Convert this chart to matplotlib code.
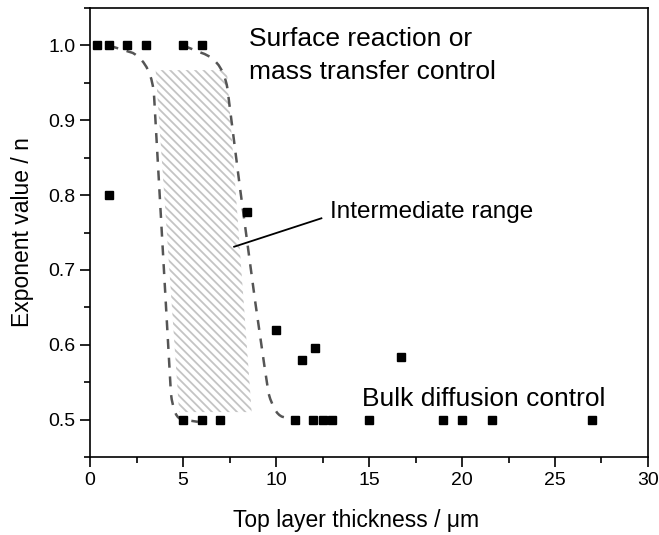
import matplotlib
matplotlib.use("Agg")
import matplotlib.pyplot as plt
from matplotlib.path import Path
from matplotlib.patches import PathPatch, Polygon
from matplotlib.ticker import MultipleLocator

plt.rcParams['font.family'] = ['Liberation Sans', 'DejaVu Sans']
plt.rcParams['hatch.color'] = '#c4c4c4'
plt.rcParams['hatch.linewidth'] = 1.3

# Data: top layer thickness (um) and exponent n
thickness = [0.4, 1.0, 2.0, 3.0, 5.0, 6.0, 1.0, 8.45, 10.0, 11.4, 12.1, 16.7,
             5.0, 6.0, 7.0, 11.0, 12.0, 12.5, 13.0, 15.0, 19.0, 20.0, 21.6, 27.0]
exponent = [1.0, 1.0, 1.0, 1.0, 1.0, 1.0, 0.80, 0.778, 0.62, 0.58, 0.595, 0.583,
            0.5, 0.5, 0.5, 0.5, 0.5, 0.5, 0.5, 0.5, 0.5, 0.5, 0.5, 0.5]

# Intermediate (hatched) region corners
region_x = [3.53, 7.36, 8.69, 4.79]
region_y = [0.967, 0.967, 0.51, 0.51]

# Dashed boundary curves (vertices + path codes)
left_bx = [1.0, 2.3, 3.35, 3.45, 4.35, 4.5, 5.0, 5.8]
left_by = [1.0, 0.99, 0.975, 0.93, 0.535, 0.5, 0.5, 0.497]
right_bx = [5.0, 6.0, 7.3, 7.45, 8.7, 9.6, 9.95, 10.5, 11.1]
right_by = [1.0, 0.99, 0.98, 0.93, 0.68, 0.535, 0.503, 0.503, 0.503]

fig = plt.figure(figsize=(6.59, 5.35), dpi=100)
ax = fig.add_axes([0.1366, 0.1458, 0.8467, 0.8392])

ax.add_patch(Polygon(list(zip(region_x, region_y)), closed=True, facecolor='none',
                     edgecolor='#c4c4c4', linewidth=0, hatch='\\\\\\\\'))

codes_left = [Path.MOVETO, Path.LINETO, Path.CURVE3, Path.CURVE3, Path.LINETO,
              Path.CURVE3, Path.CURVE3, Path.LINETO]
codes_right = [Path.MOVETO, Path.LINETO, Path.CURVE3, Path.CURVE3, Path.CURVE3,
               Path.CURVE3, Path.CURVE3, Path.CURVE3, Path.LINETO]
for bx, by, cd in [(left_bx, left_by, codes_left), (right_bx, right_by, codes_right)]:
    p = Path(list(zip(bx, by)), cd)
    ax.add_patch(PathPatch(p, facecolor='none', edgecolor='#555555', linewidth=1.8,
                           linestyle=(0, (4, 3.5)), zorder=2))

ax.plot(thickness, exponent, linestyle='none', marker='s', color='black',
        markersize=6, zorder=3)

ax.set_xlim(0, 30)
ax.set_ylim(0.45, 1.05)
ax.xaxis.set_major_locator(MultipleLocator(5))
ax.xaxis.set_minor_locator(MultipleLocator(2.5))
ax.yaxis.set_major_locator(MultipleLocator(0.1))
ax.yaxis.set_minor_locator(MultipleLocator(0.05))
ax.set_yticks([0.5, 0.6, 0.7, 0.8, 0.9, 1.0])
ax.set_yticklabels(['0.5', '0.6', '0.7', '0.8', '0.9', '1.0'])
ax.tick_params(which='major', direction='out', length=7, width=1.2, labelsize=14)
ax.tick_params(which='minor', direction='out', length=4, width=1.2)
for s in ax.spines.values():
    s.set_linewidth(1.2)

ax.set_xlabel('Top layer thickness / \u03bcm', fontsize=16.5)
ax.xaxis.set_label_coords(0.477, -0.115)
ax.set_ylabel('Exponent value / n', fontsize=16.5, labelpad=10)

ax.text(8.56, 1.024, 'Surface reaction or\nmass transfer control', fontsize=19,
        va='top', ha='left', linespacing=1.45)
ax.text(12.9, 0.777, 'Intermediate range', fontsize=17.5, va='center', ha='left')
ax.text(14.6, 0.518, 'Bulk diffusion control', fontsize=19, va='baseline', ha='left')
ax.plot([7.75, 12.44], [0.731, 0.769], color='black', linewidth=1.3)

fig.savefig('out.png', dpi=100)
